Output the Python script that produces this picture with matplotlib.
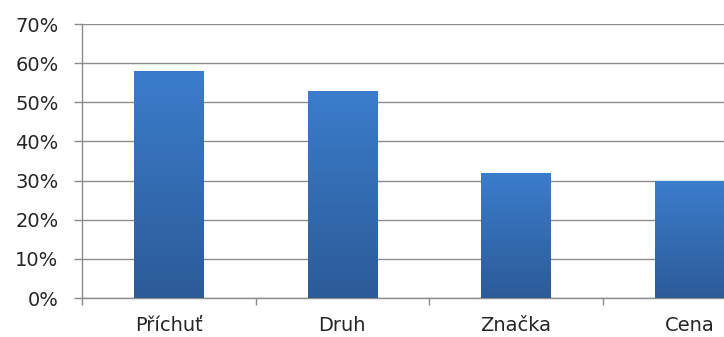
import matplotlib
matplotlib.use('Agg')
import matplotlib.pyplot as plt
import numpy as np
from matplotlib.colors import LinearSegmentedColormap
from matplotlib.ticker import PercentFormatter

categories = ['Příchuť', 'Druh', 'Značka', 'Cena']
values = [58, 53, 32, 30]
yticks = [0, 10, 20, 30, 40, 50, 60, 70]

fig = plt.figure(figsize=(7.24, 3.37), dpi=100)
# plot area runs past the right edge, like the cropped original
ax = fig.add_axes([82 / 724, 39 / 337, 694 / 724, 274 / 337])

x = np.arange(len(categories))
bars = ax.bar(x, values, width=0.4, color='none', zorder=3)

grad = np.linspace(0, 1, 256).reshape(-1, 1)
cmap = LinearSegmentedColormap.from_list('bluegrad', ['#2c5b98', '#3b7dcc'])
for b in bars:
    x0, y0 = b.get_x(), b.get_y()
    w, h = b.get_width(), b.get_height()
    im = ax.imshow(grad, cmap=cmap, origin='lower', aspect='auto',
                   extent=(x0, x0 + w, y0, y0 + h), zorder=3)
    im.set_clip_path(b)

ax.set_xlim(-0.5, len(categories) - 0.5)
ax.set_ylim(0, 70)
ax.set_yticks(yticks)
ax.yaxis.set_major_formatter(PercentFormatter(decimals=0))
ax.set_xticks(x)
ax.set_xticklabels(categories)
ax.set_xticks(np.arange(-0.5, len(categories)), minor=True)

ax.grid(axis='y', color='#8c8c8c', linewidth=1, zorder=0)
ax.set_axisbelow(True)
for side in ['top', 'right']:
    ax.spines[side].set_visible(False)
for side in ['left', 'bottom']:
    ax.spines[side].set_color('#8c8c8c')
    ax.spines[side].set_linewidth(1)

ax.tick_params(axis='y', length=6, width=1, color='#8c8c8c', pad=11,
               labelsize=14, labelcolor='#262626')
ax.tick_params(axis='x', which='major', length=0, pad=13,
               labelsize=14, labelcolor='#262626')
ax.tick_params(axis='x', which='minor', length=5, width=1, color='#8c8c8c')

fig.savefig('out.png', dpi=100)
